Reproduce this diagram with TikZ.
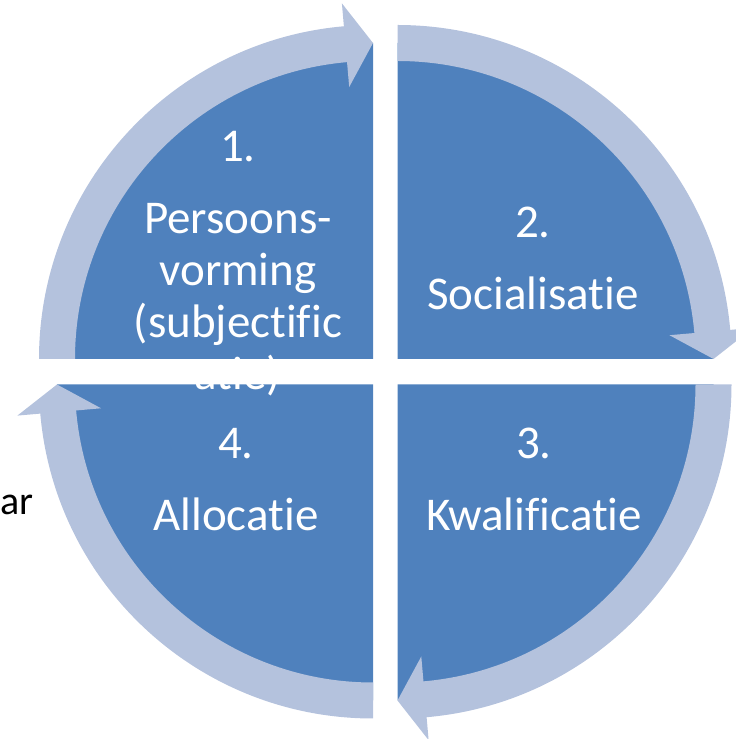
\documentclass[tikz,border=0pt]{standalone}
\usepackage{fontspec}
\setmainfont{Carlito}[Ligatures=NoCommon]

\definecolor{quadblue}{RGB}{79,129,189}
\definecolor{arrowblue}{RGB}{180,194,221}

\begin{document}
\begin{tikzpicture}
        [x=1pt, y=1pt,
         quarter/.style={fill=quadblue},
         cyclearrow/.style={fill=arrowblue},
         every node/.style={
             text=white,
             inner sep=0pt,
             align=center,
             anchor=north,
             font=\fontsize{47}{52}\selectfont
         }
         ]
        \useasboundingbox (0,0) rectangle (736,739);
        % four quarters, each with its own curved arrow
        \foreach \cx/\cy/\rot in {373/380/0, 397.5/380/-90, 397.5/354.5/-180, 373/354.5/90}
        {
            \begin{scope}[shift={(\cx,\cy)}, rotate=\rot]
                \fill[quarter] (0,0) -- (180:316) arc[start angle=180, end angle=90, radius=316] -- cycle;
                \fill[cyclearrow] (180:334) arc[start angle=180, end angle=95, radius=334]
                    -- (95:357) -- (90:316) -- (95:273) -- (95:298)
                    arc[start angle=95, end angle=180, radius=298] -- cycle;
            \end{scope}
        }
        \node (persoonsvorming) at (238,608) {1.\\[20pt]Persoons-\\vorming\\(subjectific\\atie)};
        \node (socialisatie) at (533,532) {2.\\[20pt]Socialisatie};
        \node (kwalificatie) at (534,311) {3.\\[20pt]Kwalificatie};
        \node (allocatie) at (236,311) {4.\\[20pt]Allocatie};
        \node[text=black, anchor=base west, font=\fontsize{40}{48}\selectfont] (restwoord) at (0.5,224) {ar};
    \end{tikzpicture}
\end{document}
